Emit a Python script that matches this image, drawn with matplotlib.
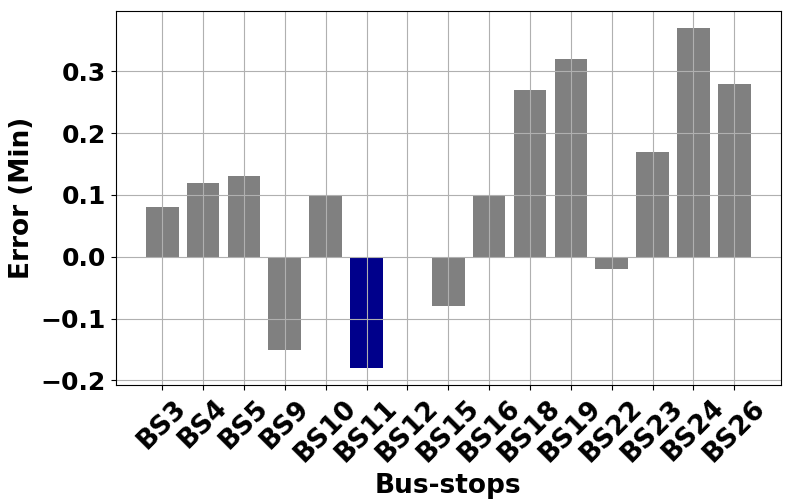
import matplotlib
matplotlib.use("Agg")
import matplotlib.pyplot as plt

stops = ['BS3', 'BS4', 'BS5', 'BS9', 'BS10', 'BS11', 'BS12', 'BS15',
         'BS16', 'BS18', 'BS19', 'BS22', 'BS23', 'BS24', 'BS26']
errors = [0.08, 0.12, 0.13, -0.15, 0.10, -0.18, 0.0, -0.08,
          0.10, 0.27, 0.32, -0.02, 0.17, 0.37, 0.28]
highlight = 'BS11'

colors = ['darkblue' if s == highlight else 'gray' for s in stops]

fig, ax = plt.subplots(figsize=(7.92, 5.04), dpi=100)
fig.subplots_adjust(left=0.146, right=0.986, top=0.978, bottom=0.236)

ax.bar(range(len(stops)), errors, color=colors, width=0.8)
ax.set_xticks(range(len(stops)))
ax.set_xticklabels(stops, rotation=45, fontsize=19, fontweight='bold')
ax.tick_params(axis='y', labelsize=18)
plt.setp(ax.get_yticklabels(), fontweight='bold')
ax.grid(True)
ax.set_xlabel('Bus-stops', fontsize=19, fontweight='bold')
ax.set_ylabel('Error (Min)', fontsize=19, fontweight='bold')

fig.savefig('out.png', dpi=100)
